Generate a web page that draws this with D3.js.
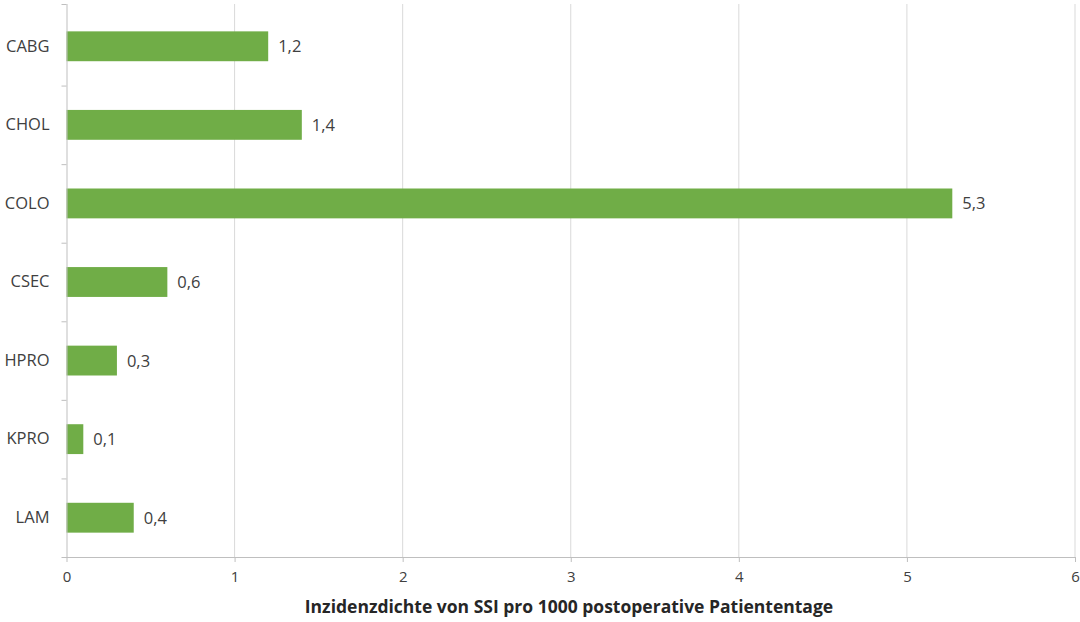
<!DOCTYPE html>
<html><head><meta charset="utf-8">
<script src="https://cdn.jsdelivr.net/npm/d3@7/dist/d3.min.js"></script>
<style>body{margin:0;background:#fff}svg{display:block}</style>
</head><body>
<script>
const categories = ["CABG","CHOL","COLO","CSEC","HPRO","KPRO","LAM"];
const values = [1.2, 1.4, 5.27, 0.6, 0.3, 0.1, 0.4];
const valueLabels = ["1,2","1,4","5,3","0,6","0,3","0,1","0,4"];
const xTicks = [0,1,2,3,4,5,6];
const xTitle = "Inzidenzdichte von SSI pro 1000 postoperative Patiententage";

const W = 1080, H = 622;
const m = {left: 66.5, right: 5, top: 7, bottom: 65};
const svg = d3.select("body").append("svg").attr("width", W).attr("height", H);
const font = "'Open Sans', sans-serif";
const txt = "#404040";

const x = d3.scaleLinear().domain([0, 6]).range([m.left, 1075]);
const y = d3.scaleBand().domain(categories).range([m.top, 557]).paddingInner(0.62).paddingOuter(0.31);
const step = y.step();

// gridlines
svg.append("g").selectAll("line").data(xTicks.filter(d => d > 0)).join("line")
  .attr("x1", d => x(d)).attr("x2", d => x(d))
  .attr("y1", 4).attr("y2", 557)
  .attr("stroke", "#d9d9d9").attr("stroke-width", 1);

// bars
svg.append("g").selectAll("rect").data(categories).join("rect")
  .attr("x", x(0))
  .attr("y", d => y(d))
  .attr("width", (d, i) => x(values[i]) - x(0))
  .attr("height", y.bandwidth())
  .attr("fill", "#70ad47");

// value labels
svg.append("g").selectAll("text").data(categories).join("text")
  .attr("x", (d, i) => x(values[i]) + 10)
  .attr("y", d => y(d) + y.bandwidth() / 2)
  .attr("dy", "0.36em")
  .attr("font-family", font).attr("font-size", 16.5).attr("fill", txt)
  .text((d, i) => valueLabels[i]);

// x axis
const xa = svg.append("g").attr("transform", "translate(0,557)")
  .call(d3.axisBottom(x).tickValues(xTicks).tickFormat(d3.format("d")).tickSize(5).tickPadding(9).tickSizeOuter(0));
xa.select(".domain").attr("stroke", "#bfbfbf").attr("d", `M${m.left - 5},0.5H${x(6)}`);
xa.selectAll(".tick line").attr("stroke", "#bfbfbf");
xa.selectAll(".tick text").attr("font-family", font).attr("font-size", 15).attr("fill", txt);

// y axis
const ya = svg.append("g").attr("transform", `translate(${m.left},0)`)
  .call(d3.axisLeft(y).tickSize(0).tickPadding(17));
ya.select(".domain").attr("stroke", "#bfbfbf").attr("d", "M0.5,4V557");
ya.selectAll(".tick text").attr("font-family", font).attr("font-size", 16.5).attr("fill", txt);
// boundary ticks between categories
const bounds = d3.range(categories.length + 1).map(i => m.top + (i === 0 ? -3 : 0) + i * step);
svg.append("g").selectAll("line").data(bounds.slice(0, -1)).join("line")
  .attr("x1", m.left - 5).attr("x2", m.left)
  .attr("y1", d => d + 0.5).attr("y2", d => d + 0.5)
  .attr("stroke", "#bfbfbf");

// x title
svg.append("text")
  .attr("x", (300 + 838) / 2).attr("y", 613)
  .attr("text-anchor", "middle")
  .attr("font-family", font).attr("font-size", 17.5).attr("font-weight", "bold").attr("fill", "#262626")
  .text(xTitle);
</script>
</body></html>
